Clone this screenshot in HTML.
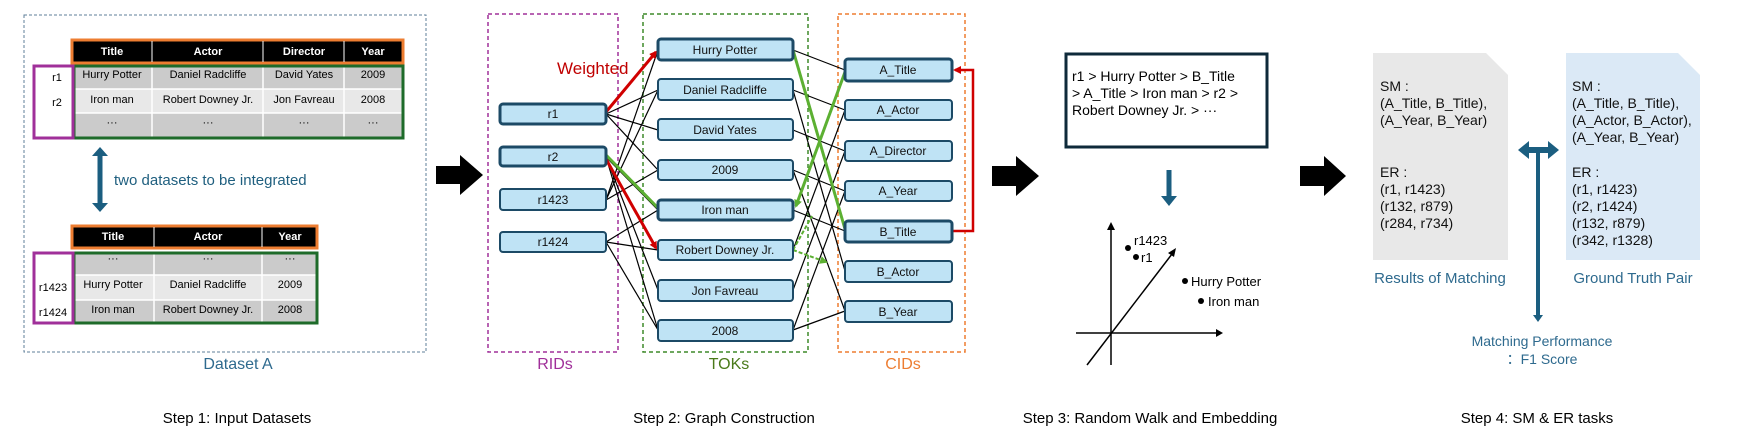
<!DOCTYPE html>
<html><head><meta charset="utf-8"><style>
body{margin:0;background:#fff}
svg{display:block}
text{font-family:"Liberation Sans",sans-serif}
</style></head><body>
<svg width="1748" height="445" viewBox="0 0 1748 445" xmlns="http://www.w3.org/2000/svg">
<defs>
<marker id="ar" markerWidth="8" markerHeight="8" refX="6" refY="4" orient="auto" markerUnits="userSpaceOnUse"><path d="M0,0 L8,4 L0,8 z" fill="#d00000"/></marker>
<marker id="ag" markerWidth="8" markerHeight="8" refX="6" refY="4" orient="auto" markerUnits="userSpaceOnUse"><path d="M0,0 L8,4 L0,8 z" fill="#5cb032"/></marker>
<marker id="ak" markerWidth="8" markerHeight="8" refX="6" refY="4" orient="auto" markerUnits="userSpaceOnUse"><path d="M0,0 L8,4 L0,8 z" fill="#000"/></marker>
</defs>

<!-- STEP 1 -->
<rect x="24" y="15" width="402" height="337" fill="none" stroke="#5f7f9a" stroke-width="1" stroke-dasharray="3,2"/>
<!-- table A -->
<rect x="72" y="40" width="331" height="23" fill="#000" stroke="#ed7d31" stroke-width="3"/>
<g fill="#fff" font-size="11" font-weight="bold" text-anchor="middle">
<text x="112" y="55">Title</text><text x="208" y="55">Actor</text><text x="304" y="55">Director</text><text x="373" y="55">Year</text></g>
<line x1="152" y1="41" x2="152" y2="62" stroke="#fff"/><line x1="263" y1="41" x2="263" y2="62" stroke="#fff"/><line x1="344" y1="41" x2="344" y2="62" stroke="#fff"/>
<rect x="74" y="66" width="328" height="23" fill="#cbcbcb"/><rect x="74" y="89" width="328" height="24" fill="#e8e8e8"/><rect x="74" y="113" width="328" height="24" fill="#cbcbcb"/>
<g stroke="#fff" stroke-width="1.5"><line x1="74" y1="89" x2="402" y2="89"/><line x1="74" y1="113" x2="402" y2="113"/>
<line x1="152" y1="66" x2="152" y2="137"/><line x1="263" y1="66" x2="263" y2="137"/><line x1="344" y1="66" x2="344" y2="137"/></g>
<rect x="74" y="66" width="329" height="72" fill="none" stroke="#1e6b2a" stroke-width="3"/>
<rect x="34" y="66" width="39" height="72" fill="#fff" stroke="#a0309a" stroke-width="3"/>
<g font-size="11" text-anchor="middle" fill="#000">
<text x="112" y="78">Hurry Potter</text><text x="208" y="78">Daniel Radcliffe</text><text x="304" y="78">David Yates</text><text x="373" y="78">2009</text>
<text x="112" y="103">Iron man</text><text x="208" y="103">Robert Downey Jr.</text><text x="304" y="103">Jon Favreau</text><text x="373" y="103">2008</text>
<text x="112" y="126">···</text><text x="208" y="126">···</text><text x="304" y="126">···</text><text x="373" y="126">···</text>
<text x="57" y="81">r1</text><text x="57" y="106">r2</text></g>
<!-- double arrow -->
<line x1="100" y1="154" x2="100" y2="205" stroke="#1b5e80" stroke-width="5"/>
<path d="M92,156 L100,147 L108,156 z M92,203 L100,212 L108,203 z" fill="#1b5e80"/>
<text x="114" y="185" font-size="15" fill="#1f5f7f">two datasets to be integrated</text>
<!-- table B -->
<rect x="72" y="226" width="245" height="22" fill="#000" stroke="#ed7d31" stroke-width="3"/>
<g fill="#fff" font-size="11" font-weight="bold" text-anchor="middle">
<text x="113" y="240">Title</text><text x="208" y="240">Actor</text><text x="290" y="240">Year</text></g>
<line x1="154" y1="227" x2="154" y2="247" stroke="#fff"/><line x1="262" y1="227" x2="262" y2="247" stroke="#fff"/>
<rect x="74" y="253" width="243" height="22" fill="#cbcbcb"/><rect x="74" y="275" width="243" height="25" fill="#e8e8e8"/><rect x="74" y="300" width="243" height="23" fill="#cbcbcb"/>
<g stroke="#fff" stroke-width="1.5"><line x1="74" y1="275" x2="317" y2="275"/><line x1="74" y1="300" x2="317" y2="300"/>
<line x1="154" y1="253" x2="154" y2="323"/><line x1="262" y1="253" x2="262" y2="323"/></g>
<rect x="74" y="253" width="243" height="70" fill="none" stroke="#1e6b2a" stroke-width="3"/>
<rect x="34" y="253" width="39" height="70" fill="#fff" stroke="#a0309a" stroke-width="3"/>
<g font-size="11" text-anchor="middle" fill="#000">
<text x="113" y="262">···</text><text x="208" y="262">···</text><text x="290" y="262">···</text>
<text x="113" y="288">Hurry Potter</text><text x="208" y="288">Daniel Radcliffe</text><text x="290" y="288">2009</text>
<text x="113" y="313">Iron man</text><text x="208" y="313">Robert Downey Jr.</text><text x="290" y="313">2008</text>
<text x="53" y="291">r1423</text><text x="53" y="316">r1424</text></g>
<text x="238" y="369" font-size="16" fill="#2e6a8e" text-anchor="middle">Dataset A</text>
<text x="237" y="423" font-size="15" fill="#000" text-anchor="middle">Step 1: Input Datasets</text>

<!-- big arrows -->
<path d="M436,166 L460,166 L460,155 L483,175 L460,195 L460,184 L436,184 z" fill="#000"/>
<path d="M992,166 L1016,166 L1016,156 L1039,176 L1016,196 L1016,186 L992,186 z" fill="#000"/>
<path d="M1300,166 L1324,166 L1324,156 L1346,176 L1324,196 L1324,186 L1300,186 z" fill="#000"/>

<!-- STEP 2 boxes -->
<rect x="488" y="14" width="130" height="338" fill="none" stroke="#a0309a" stroke-width="1.5" stroke-dasharray="4,3"/>
<rect x="643" y="14" width="165" height="338" fill="none" stroke="#3f8a2a" stroke-width="1.5" stroke-dasharray="4,3"/>
<rect x="838" y="14" width="127" height="338" fill="none" stroke="#ed7d31" stroke-width="1.5" stroke-dasharray="4,3"/>

<!-- edges RID-TOK -->
<g stroke="#000" stroke-width="1.2" fill="none">
<line x1="606" y1="114" x2="658" y2="90"/><line x1="606" y1="114" x2="658" y2="130"/><line x1="606" y1="114" x2="658" y2="170"/>
<line x1="606" y1="157" x2="658" y2="290"/><line x1="606" y1="157" x2="658" y2="330"/><line x1="606" y1="157" x2="658" y2="210"/>
<line x1="606" y1="200" x2="658" y2="50"/><line x1="606" y1="200" x2="658" y2="90"/><line x1="606" y1="200" x2="658" y2="170"/>
<line x1="606" y1="242" x2="658" y2="210"/><line x1="606" y1="242" x2="658" y2="250"/><line x1="606" y1="242" x2="658" y2="330"/>
<!-- TOK-CID -->
<line x1="793" y1="50" x2="845" y2="70"/><line x1="793" y1="90" x2="845" y2="110"/><line x1="793" y1="90" x2="845" y2="271"/>
<line x1="793" y1="130" x2="845" y2="151"/><line x1="793" y1="170" x2="845" y2="191"/><line x1="793" y1="170" x2="845" y2="311"/>
<line x1="793" y1="210" x2="845" y2="231"/><line x1="793" y1="250" x2="845" y2="110"/>
<line x1="793" y1="290" x2="845" y2="151"/><line x1="793" y1="330" x2="845" y2="191"/><line x1="793" y1="330" x2="845" y2="311"/>
</g>
<line x1="606" y1="112" x2="656" y2="52" stroke="#d00000" stroke-width="3" marker-end="url(#ar)"/>
<line x1="606" y1="159" x2="656" y2="248" stroke="#d00000" stroke-width="3" marker-end="url(#ar)"/>
<line x1="606" y1="155" x2="658" y2="208" stroke="#5cb032" stroke-width="3"/>
<line x1="793" y1="50" x2="845" y2="229" stroke="#5cb032" stroke-width="3"/>
<line x1="845" y1="72" x2="796" y2="206" stroke="#5cb032" stroke-width="3" marker-end="url(#ag)"/>
<line x1="793" y1="250" x2="812" y2="216" stroke="#5cb032" stroke-width="2" stroke-dasharray="4,2"/>
<line x1="793" y1="250" x2="826" y2="262" stroke="#5cb032" stroke-width="2" stroke-dasharray="4,2" marker-end="url(#ag)"/>
<path d="M952,231 L973,231 L973,70 L955,70" fill="none" stroke="#d00000" stroke-width="2.5" marker-end="url(#ar)"/>
<text x="557" y="74" font-size="17" fill="#c00000">Weighted</text>

<!-- nodes -->
<g fill="#bfe3f5" stroke="#1c4a66" stroke-width="2">
<rect x="500" y="104" width="106" height="20" rx="3" stroke-width="3"/><rect x="500" y="147" width="106" height="19" rx="3" stroke-width="3"/>
<rect x="500" y="189" width="106" height="21" rx="3"/><rect x="500" y="232" width="106" height="20" rx="3"/>
<rect x="658" y="39" width="135" height="21" rx="3" stroke-width="3"/><rect x="658" y="79" width="135" height="21" rx="3"/>
<rect x="658" y="119" width="135" height="21" rx="3"/><rect x="658" y="160" width="135" height="20" rx="3"/>
<rect x="658" y="200" width="135" height="20" rx="3" stroke-width="3"/><rect x="658" y="240" width="135" height="20" rx="3"/>
<rect x="658" y="280" width="135" height="21" rx="3"/><rect x="658" y="320" width="135" height="21" rx="3"/>
<rect x="845" y="59" width="107" height="22" rx="3" stroke-width="3"/><rect x="845" y="100" width="107" height="20" rx="3"/>
<rect x="845" y="141" width="107" height="20" rx="3"/><rect x="845" y="181" width="107" height="20" rx="3"/>
<rect x="845" y="221" width="107" height="21" rx="3" stroke-width="3"/><rect x="845" y="261" width="107" height="21" rx="3"/>
<rect x="845" y="301" width="107" height="21" rx="3"/>
</g>
<g font-size="12" text-anchor="middle" fill="#111">
<text x="553" y="118">r1</text><text x="553" y="161">r2</text><text x="553" y="204">r1423</text><text x="553" y="246">r1424</text>
<text x="725" y="54">Hurry Potter</text><text x="725" y="94">Daniel Radcliffe</text><text x="725" y="134">David Yates</text><text x="725" y="174">2009</text>
<text x="725" y="214">Iron man</text><text x="725" y="254">Robert Downey Jr.</text><text x="725" y="295">Jon Favreau</text><text x="725" y="335">2008</text>
<text x="898" y="74">A_Title</text><text x="898" y="114">A_Actor</text><text x="898" y="155">A_Director</text><text x="898" y="195">A_Year</text>
<text x="898" y="236">B_Title</text><text x="898" y="276">B_Actor</text><text x="898" y="316">B_Year</text></g>
<text x="555" y="369" font-size="16" fill="#a0309a" text-anchor="middle">RIDs</text>
<text x="729" y="369" font-size="16" fill="#4a7a1a" text-anchor="middle">TOKs</text>
<text x="903" y="369" font-size="16" fill="#ed7d31" text-anchor="middle">CIDs</text>
<text x="724" y="423" font-size="15" fill="#000" text-anchor="middle">Step 2: Graph Construction</text>

<!-- STEP 3 -->
<rect x="1066" y="54" width="201" height="93" fill="#fff" stroke="#0e2a3a" stroke-width="3"/>
<g font-size="14" fill="#000"><text x="1072" y="81">r1 &gt; Hurry Potter &gt; B_Title</text>
<text x="1072" y="98">&gt; A_Title &gt; Iron man &gt; r2 &gt;</text><text x="1072" y="115">Robert Downey Jr. &gt; ···</text></g>
<line x1="1169" y1="170" x2="1169" y2="198" stroke="#1b5e80" stroke-width="5"/>
<path d="M1161,196 L1169,206 L1177,196 z" fill="#1b5e80"/>
<g stroke="#000" stroke-width="1.5">
<line x1="1111" y1="365" x2="1111" y2="228"/><line x1="1076" y1="333" x2="1218" y2="333"/><line x1="1087" y1="365" x2="1172" y2="254"/></g>
<path d="M1107,230 L1111,222 L1115,230 z M1216,329 L1223,333 L1216,337 z M1168,253 L1176,248 L1174,257 z" fill="#000"/>
<g fill="#000"><circle cx="1128" cy="248" r="3"/><circle cx="1136" cy="257" r="3"/><circle cx="1185" cy="281" r="3"/><circle cx="1201" cy="301" r="3"/></g>
<g font-size="13" fill="#000"><text x="1134" y="245">r1423</text><text x="1141" y="262">r1</text><text x="1191" y="286">Hurry Potter</text><text x="1208" y="306">Iron man</text></g>
<text x="1150" y="423" font-size="15" fill="#000" text-anchor="middle">Step 3: Random Walk and Embedding</text>

<!-- STEP 4 -->
<path d="M1373,53 L1486,53 L1508,75 L1508,260 L1373,260 z" fill="#e8e8e8"/>
<path d="M1566,53 L1678,53 L1700,75 L1700,260 L1566,260 z" fill="#dbe9f6"/>
<g font-size="14" fill="#111">
<text x="1380" y="91">SM :</text><text x="1380" y="108">(A_Title, B_Title),</text><text x="1380" y="125">(A_Year, B_Year)</text>
<text x="1380" y="177">ER :</text><text x="1380" y="194">(r1, r1423)</text><text x="1380" y="211">(r132, r879)</text><text x="1380" y="228">(r284, r734)</text>
<text x="1572" y="91">SM :</text><text x="1572" y="108">(A_Title, B_Title),</text><text x="1572" y="125">(A_Actor, B_Actor),</text><text x="1572" y="142">(A_Year, B_Year)</text>
<text x="1572" y="177">ER :</text><text x="1572" y="194">(r1, r1423)</text><text x="1572" y="211">(r2, r1424)</text><text x="1572" y="228">(r132, r879)</text><text x="1572" y="245">(r342, r1328)</text></g>
<text x="1440" y="283" font-size="15" fill="#2e6a8e" text-anchor="middle">Results of Matching</text>
<text x="1633" y="283" font-size="15" fill="#2e6a8e" text-anchor="middle">Ground Truth Pair</text>
<line x1="1527" y1="150" x2="1550" y2="150" stroke="#1b5e80" stroke-width="6"/>
<path d="M1518,150 L1529,141 L1529,159 z M1559,150 L1548,141 L1548,159 z" fill="#1b5e80"/>
<line x1="1538" y1="150" x2="1538" y2="316" stroke="#1b5e80" stroke-width="4"/>
<path d="M1533,315 L1538,322 L1543,315 z" fill="#1b5e80"/>
<text x="1542" y="346" font-size="14" fill="#2e6a8e" text-anchor="middle">Matching Performance</text>
<text x="1542" y="364" font-size="14" fill="#2e6a8e" text-anchor="middle">：F1 Score</text>
<text x="1537" y="423" font-size="15" fill="#000" text-anchor="middle">Step 4: SM &amp; ER tasks</text>
</svg>
</body></html>
